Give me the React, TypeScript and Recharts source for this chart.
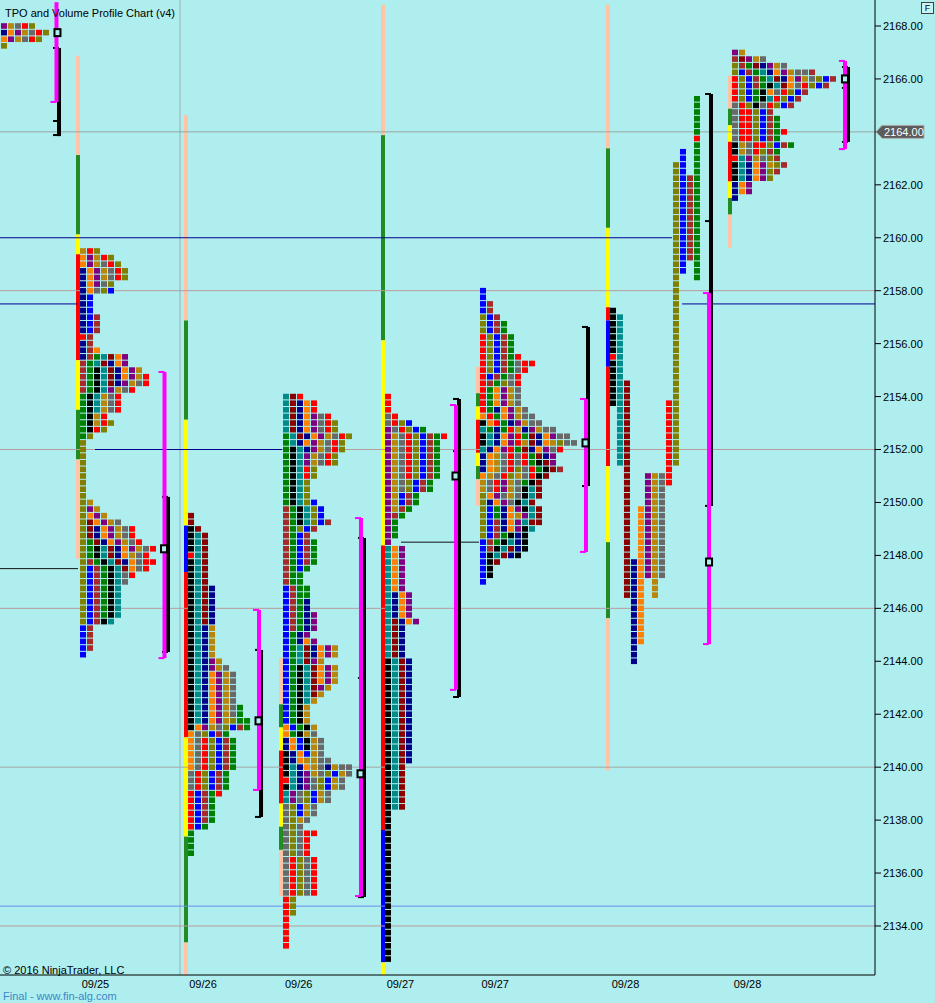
import React from 'react';
import { ComposedChart, Scatter, XAxis, YAxis, ReferenceLine, ReferenceArea, ReferenceDot } from 'recharts';

// ---------- styles ----------
const BG = '#AFEEEE';
const TPO_COLORS: Record<string, string> = {
  K: '#000000', T: '#008B8B', M: '#8B0000', N: '#00008B', A: '#FF8000', P: '#800080',
  G: '#B8860B', Y: '#696969', R: '#FF0000', O: '#808000', B: '#0000FF', W: '#A52A2A', E: '#008000',
};
const STRIP_COLORS: Record<string, string> = { p: '#FFC4A8', g: '#228B22', y: '#FFFF00', r: '#FF0000', b: '#0000FF' };
const LINE_COLORS: Record<string, string> = { gray: '#A4A8A8', rose: '#B89C9C', navy: '#00008B', black: '#101010', sky: '#6A8FEF' };

// ---------- axes ----------
const TICK_SIZE = 0.25;
const LAST_PRICE = 2164;
const Y_DOMAIN: [number, number] = [2132.148, 2168.982];
const Y_TICKS = [2134, 2136, 2138, 2140, 2142, 2144, 2146, 2148, 2150, 2152, 2154, 2156, 2158, 2160, 2162, 2164, 2166, 2168];
const X_DOMAIN: [number, number] = [0, 125];
const X_TICKS = [13.63, 29.0, 42.67, 57.2, 70.74, 89.36, 106.79];
const X_LABELS = ['09/25', '09/26', '09/26', '09/27', '09/27', '09/28', '09/28'];

// ---------- TPO profiles (rows from top price downward, one letter per period) ----------
const profile0Rows = ['PGYRO', 'NAPGYRO', 'APGYRO', 'O'];

const profileARows = [
  'GRO', 'APGRO', 'APGYRO', 'NAPGYRO', 'NAPGYRO', 'NAPYO', 'NAYOB',
  'NB', 'NB', 'NB', 'NBW', 'NBW', 'NBW', 'RW', 'NW', 'NWA',
  'NWETMAP', 'WETMNAP', 'WEKTMNAPG', 'WEKTMNAPGR', 'WEKTMNPGYR', 'WEKTPGYR',
  'EKTGYR', 'EKTGYR', 'EKTGYR', 'EKGR', 'EKGRO', 'EKRO', 'EO',
  'O', 'O', 'O', 'O', 'O', 'O', 'O', 'O', 'O',
  'OG', 'OPG', 'OAPG', 'OMAPGY', 'OMNAPGYR', 'OMNAPGYR', 'OEMNAPGYR',
  'OEKTMNAPGYR', 'OEKTMNAGYR', 'OWEKTMNAYRR', 'OBWEKTMAYR', 'OBWEKTYR', 'OBWEKTY',
  'OBWEKT', 'OBWEKT', 'OBWEKT', 'OBWEKT', 'OBWEKT', 'OBWKT',
  'BW', 'BW', 'BW', 'BW', 'B',
];

const profileBRows = [
  'M', 'M', 'KM', 'KTM', 'KTM', 'KTM', 'RTM', 'KTM', 'KTM', 'KTM', 'KTM',
  'KTMN', 'KTMN', 'KTMN', 'KTMN', 'KTMN', 'KTMN',
  'KTNG', 'KTNG', 'KTNG', 'KTNG', 'KTNG', 'KTNPG', 'KTNPGY',
  'KTNAPGY', 'KTNAPGY', 'KTNAPGY', 'KTNAPGY', 'KTNAPGY', 'KTNAPGYE', 'KTNAPGYE',
  'KTNAPGOEE', 'KAPGYOBWE', 'AYOBWE',
  'AYROBWE', 'AYROBWE', 'AYROBWE', 'AYROBWE', 'AYROBWE',
  'YROBWE', 'YROBWE', 'YROBWE', 'RBWER', 'RBWE', 'RBWE', 'RBWE', 'RBWE', 'RBE',
  'E', 'E', 'E', 'E',
];

const profileCRows = [
  'TMR', 'TMNAR', 'TMNAR', 'TMNAPYR', 'TMNAPYRO', 'TMNAPYRO', 'ETMNAPGYRO', 'ETNAPGYRO',
  'EKTNPGYRO', 'EKTPGYRO', 'EKTPGYRO', 'EKTRO', 'EKTRO', 'EKTO', 'EKTO', 'EKTO', 'EKTOB',
  'WEKTOB', 'WEKTOB', 'WEKTOBW', 'WEOBW', 'WEBW', 'WEBWE', 'WEBWE', 'WEBWE', 'WEBWE', 'WEBE',
  'WEE', 'WEE', 'BWEE', 'BWEE', 'BWEN', 'BWEN',
  'BWENP', 'BWENP', 'BWENP', 'BENP', 'BENAP', 'BETMNAPG', 'BETMNAPG', 'BETMPG',
  'BEKTMAPG', 'BEKTMAPG', 'BEKTMAPG', 'BEKTMPG', 'BEKTMG', 'BEKTG', 'BEKG', 'BEKG', 'BEKG',
  'ABEKG', 'AEKGY', 'NABKGY', 'NABKGY', 'KNABGY', 'KNAGGYY', 'KTNAGYNGYY', 'KTNPGYOBGY',
  'RTNPYOBGY', 'KTNPYOBGY', 'TPYOBGY', 'TPYOBGY', 'YOBGY', 'YOBGY', 'YOGY', 'YOY', 'YOYRR',
  'YOYR', 'YOYR', 'YOYR', 'YROYR', 'YROYR', 'YROYR', 'YROYR', 'YROYR', 'YROYR',
  'RO', 'RO', 'RO', 'R', 'R', 'R', 'R', 'R',
];

const profileDRows = [
  'R', 'R', 'R', 'YR', 'YROB', 'PYROBE', 'PGYROBWER',
  'PGYROBWE', 'PGYROBWE', 'PGYROBWE', 'PGYROBWE', 'PGYROBWE', 'PGYROBWE',
  'PGYOBWE', 'PGYOBWE', 'PGBWE', 'PGBWE', 'PGWE', 'PWE', 'PE', 'PE', 'PE', 'P',
  'TAP', 'TAP', 'TAP', 'TAP', 'TAP', 'TAP', 'TAP', 'TNAP', 'TNAP', 'TNAP', 'TNAP', 'TMNAP',
  'TMN', 'TMN', 'TMN', 'TMN', 'TMN',
  'KTMN', 'KTMN', 'KTMN', 'KTMN', 'KTMN', 'KTMN', 'KTMN', 'KTMN', 'KTMN', 'KTMN', 'KTMN',
  'KTMN', 'KTMN', 'KTMN', 'KTMN', 'KTMN',
  'KTM', 'KTM', 'KTM', 'KTM', 'KTM', 'KTM', 'KTM',
  'K', 'K', 'K', 'K', 'K', 'K', 'K', 'K', 'K', 'K', 'K', 'K', 'K', 'K', 'K', 'K', 'K',
  'K', 'K', 'K', 'K', 'K', 'K',
];

const profileERows = [
  'B', 'B', 'BW', 'BW', 'OBW', 'OBWE', 'OBWE', 'ROBWE', 'ROBWE', 'ROBWE', 'ROBWER',
  'ROBWEYRR', 'ROBWEYR', 'RBWEYR', 'RWEOYR', 'REAPGY', 'REAPGY', 'REAPGY', 'RENAPGY',
  'AREAPGYY', 'KARENPGYY', 'TENERGNPGYY', 'KTNAPREMNAPYY', 'KTNAPRGMNAGOYY',
  'TNAPREMNAPYR', 'NAGYRYREMNP', 'NAGYRYREKMP', 'NAGYROYREKMW', 'AGYROGYRKM',
  'GYRPGYEKM', 'GYRPGYKTM', 'OAPYGYKTM', 'ONAPYKTM', 'OBENAPKTM', 'OBENAGPTM',
  'OBWNAPTMM', 'OBWNAPKT', 'OBWEKNK', 'BWEKTNK', 'BWKTMNK', 'BKTMNK', 'BKM', 'BK', 'BK', 'B',
];

// 09/28 overnight: one column per period (top price, cells downward)
const profileFColumns = [
  { top: 2157.25, cells: 'KKKKKKKRKKKKKKK' },
  { top: 2157.0, cells: 'TTTTTTTTTTTTTTTTTTTTTTT' },
  { top: 2154.5, cells: 'MMMMMMMMMMMMMMMMMMMMMMMMMMMMMMMMM' },
  { top: 2147.75, cells: 'NNNNNNNNNNNNNNNN' },
  { top: 2149.75, cells: 'AAAAAAAAAAAAAAAAAAAAA' },
  { top: 2151.0, cells: 'PPPPPPPPPPPPPPPP' },
  { top: 2151.0, cells: 'GGGGGGGGGGGGGGGGGGG' },
  { top: 2151.0, cells: 'YYYYYYYYYYYYYYYY' },
  { top: 2153.75, cells: 'RRRRRRRRRRRRR' },
  { top: 2162.75, cells: 'OOOOOOOOOOOOOOOOOOOOOOOOOOOOOOOOOOOOOOOOOOOOOO' },
  { top: 2163.25, cells: 'BBBBBBBBBBBBBBBBBBB' },
  { top: 2162.25, cells: 'WWWWWWWWWWWWW' },
  { top: 2165.25, cells: 'EEEEEEREEEEEEEEEEEEEEEEEEEEE' },
];

const profileGRows = [
  'PG', 'WMPGY', 'OWEMNPGY', 'OBWETNAPGYYW', 'ROBWETMNAPGYOBW', 'ROBWEKTMAYROBW',
  'ROBEKAYROBW', 'ROBEKTROBW', 'YROKYROBW', 'YRROBW', 'YRROBWE', 'YRROBWE', 'YRROBWER',
  'YRROBWE', 'KGYRROBWE', 'KGYROWE', 'RTPGYOW', 'KTNAPGOW', 'KTNAPOW', 'KTNAPO', 'NAP', 'NAP', 'N',
];

// session colour strips (top price, bottom price, colour code)
const stripA = [[2166.875, 2163.125, 'p'], [2163.125, 2160.125, 'g'], [2160.125, 2159.375, 'y'], [2159.375, 2155.375, 'r'], [2155.375, 2153.5, 'y'], [2153.5, 2151.625, 'g'], [2151.625, 2147.875, 'p']];
const stripB = [[2164.625, 2156.875, 'p'], [2156.875, 2153.125, 'g'], [2153.125, 2149.125, 'y'], [2149.125, 2147.375, 'b'], [2147.375, 2141.125, 'r'], [2141.125, 2137.375, 'y'], [2137.375, 2133.375, 'g'], [2133.375, 2132.148, 'p']];
const stripC = [[2144.125, 2142.375, 'p'], [2142.375, 2141.5, 'g'], [2141.5, 2140.625, 'y'], [2140.625, 2138.625, 'r'], [2138.625, 2137.75, 'y'], [2137.75, 2136.875, 'g'], [2136.875, 2135.125, 'p']];
const stripD = [[2168.8, 2163.875, 'p'], [2163.875, 2156.125, 'g'], [2156.125, 2148.375, 'y'], [2148.375, 2137.625, 'r'], [2137.625, 2132.625, 'b'], [2132.625, 2132.148, 'y']];
const stripE = [[2155.125, 2154.125, 'p'], [2154.125, 2153.625, 'g'], [2153.625, 2153.125, 'y'], [2153.125, 2151.875, 'r'], [2151.875, 2151.375, 'y'], [2151.375, 2150.875, 'g'], [2150.875, 2149.875, 'p']];
const stripF = [[2168.8, 2163.375, 'p'], [2163.375, 2160.375, 'g'], [2160.375, 2157.375, 'y'], [2157.375, 2156.875, 'r'], [2156.875, 2155.125, 'b'], [2155.125, 2151.375, 'r'], [2151.375, 2148.5, 'y'], [2148.5, 2145.625, 'g'], [2145.625, 2139.875, 'p']];
const stripG = [[2166.125, 2164.875, 'p'], [2164.875, 2164.25, 'g'], [2164.25, 2163.625, 'y'], [2163.625, 2162.125, 'r'], [2162.125, 2161.5, 'y'], [2161.5, 2160.875, 'g'], [2160.875, 2159.625, 'p']];

// session layout: time-slot where each profile starts
const sessions = [
  { start: 0.14, top: 2168.0, rows: profile0Rows, strip: [] as any[] },
  { start: 11.43, top: 2159.5, rows: profileARows, strip: stripA },
  { start: 26.86, top: 2149.5, rows: profileBRows, strip: stripB },
  { start: 40.43, top: 2154.0, rows: profileCRows, strip: stripC },
  { start: 55.0, top: 2154.0, rows: profileDRows, strip: stripD },
  { start: 68.57, top: 2158.0, rows: profileERows, strip: stripE },
  { start: 87.14, top: 0, rows: [] as string[], strip: stripF },
  { start: 104.57, top: 2167.0, rows: profileGRows, strip: stripG },
];
const F_START = 87.14;

// value-area (magenta) and range (black) brackets, POC boxes
const vaBrackets = [
  { x: 8.07, hi: 2168.9, lo: 2165.13, ticks: [2165.13] },
  { x: 23.5, hi: 2154.93, lo: 2144.12, ticks: [2154.93, 2144.12] },
  { x: 37.0, hi: 2145.94, lo: 2139.14, ticks: [2145.94, 2139.14] },
  { x: 51.57, hi: 2149.41, lo: 2135.13, ticks: [2149.41, 2135.13] },
  { x: 65.14, hi: 2153.68, lo: 2142.92, ticks: [2153.68, 2142.92] },
  { x: 83.71, hi: 2153.91, lo: 2148.13, ticks: [2153.91, 2148.13] },
  { x: 101.29, hi: 2157.91, lo: 2144.65, ticks: [2157.91, 2144.65] },
  { x: 120.71, hi: 2166.68, lo: 2163.35, ticks: [2166.68, 2163.35] },
];
const rangeBrackets = [
  { x: 8.43, hi: 2167.17, lo: 2163.84, ticks: [2167.17, 2164.41, 2163.88] },
  { x: 24.0, hi: 2150.21, lo: 2144.35, ticks: [2150.21, 2144.35] },
  { x: 37.29, hi: 2144.43, lo: 2138.12, ticks: [2144.43, 2138.12] },
  { x: 52.0, hi: 2148.66, lo: 2135.09, ticks: [2148.66, 2143.37, 2135.09] },
  { x: 65.57, hi: 2153.91, lo: 2142.65, ticks: [2153.91, 2151.94, 2142.65] },
  { x: 84.0, hi: 2156.63, lo: 2150.62, ticks: [2156.63, 2152.25, 2150.62] },
  { x: 101.57, hi: 2165.43, lo: 2149.87, ticks: [2165.43, 2160.63, 2149.87] },
  { x: 121.14, hi: 2166.45, lo: 2163.62, ticks: [2166.45, 2165.66, 2163.62] },
];
const pocBoxes = [
  { x: 8.21, y: 2167.75 }, { x: 23.43, y: 2148.25 }, { x: 36.93, y: 2141.75 }, { x: 51.5, y: 2139.75 },
  { x: 65.07, y: 2151.0 }, { x: 83.64, y: 2152.25 }, { x: 101.29, y: 2147.75 }, { x: 120.71, y: 2166.0 },
];

// horizontal levels
const fullLevels = [
  { y: 2158, c: 'rose' }, { y: 2152, c: 'rose' }, { y: 2146, c: 'rose' },
  { y: 2140, c: 'gray' }, { y: 2134, c: 'rose' }, { y: 2134.75, c: 'sky' },
];
const partLevels = [
  { y: 2160.0, x1: 0, x2: 96.0, c: 'navy' },
  { y: 2157.5, x1: 0, x2: 11.14, c: 'navy' },
  { y: 2157.5, x1: 97.43, x2: 125, c: 'navy' },
  { y: 2152.0, x1: 13.57, x2: 40.29, c: 'navy' },
  { y: 2147.5, x1: 0, x2: 11.14, c: 'black' },
  { y: 2148.5, x1: 57.29, x2: 68.43, c: 'black' },
];
const SESSION_DIVIDER = 25.71;

// ---------- layout constants ----------
const CELL_CENTER = 3 / 7;
const STRIP_W = 4 / 7;
const TICK_LEN = 0.86;

type Cell = { x: number; y: number; c: string };
const cells: Cell[] = [];
sessions.forEach((s) => {
  s.rows.forEach((row, r) => {
    row.split('').forEach((ch, i) => {
      if (ch !== '.') cells.push({ x: s.start + i + CELL_CENTER, y: s.top - r * TICK_SIZE, c: ch });
    });
  });
});
profileFColumns.forEach((col, i) => {
  col.cells.split('').forEach((ch, r) => {
    cells.push({ x: F_START + i + CELL_CENTER, y: col.top - r * TICK_SIZE, c: ch });
  });
});

const CellShape = (props: any) => {
  const { cx, cy, payload } = props;
  if (cx == null || cy == null) return null;
  return <rect x={cx - 3} y={cy - 2.8} width={6} height={5.6} fill={TPO_COLORS[payload.c]} />;
};

const YTick = (props: any) => {
  const { x, y, payload } = props;
  const v = payload.value as number;
  const label = v.toFixed(2);
  if (v === LAST_PRICE) {
    return (
      <g>
        <polygon
          points={`${x - 7},${y} ${x - 1},${y - 6.5} ${x + 41},${y - 6.5} ${x + 41},${y + 6.5} ${x - 1},${y + 6.5}`}
          fill="#5C5C5C" stroke="#B0B0B0" strokeWidth={1}
        />
        <text x={x + 1} y={y} dy="0.36em" fill="#FFFFFF" fontSize={11} fontFamily="Arial, 'Liberation Sans'">{label}</text>
      </g>
    );
  }
  return (
    <text x={x} y={y} dy="0.36em" textAnchor="start" fill="#000" fontSize={11} fontFamily="Arial, 'Liberation Sans'">{label}</text>
  );
};

const PocShape = (props: any) => {
  const { cx, cy } = props;
  return <rect x={cx - 3} y={cy - 3.5} width={6} height={7} fill={BG} stroke="#000" strokeWidth={2} />;
};

export default function App() {
  const xTickFmt = (v: number) => {
    const i = X_TICKS.indexOf(v);
    return i >= 0 ? X_LABELS[i] : '';
  };
  return (
    <div style={{ position: 'absolute', left: 0, top: 0, width: 935, height: 1003, background: BG, overflow: 'hidden', fontFamily: "Arial, 'Liberation Sans', sans-serif" }}>
      <ComposedChart width={935} height={1003} margin={{ top: 0, right: 0, bottom: 0, left: 0 }}>
        <XAxis
          type="number" dataKey="x" domain={X_DOMAIN} allowDataOverflow ticks={X_TICKS} interval={0}
          tickFormatter={xTickFmt} tickLine={false} tickSize={3} height={28}
          axisLine={{ stroke: '#000' }} tick={{ fontSize: 11, fill: '#000', fontFamily: "Arial, 'Liberation Sans'" }}
        />
        <YAxis
          type="number" dataKey="y" orientation="right" width={60} domain={Y_DOMAIN} allowDataOverflow
          ticks={Y_TICKS} interval={0} axisLine={{ stroke: '#000' }} tickLine={{ stroke: '#000' }} tickSize={6}
          tick={<YTick />}
        />
        <ReferenceLine x={SESSION_DIVIDER} stroke="#A8A8A8" strokeWidth={1} />
        {fullLevels.map((l, i) => (
          <ReferenceLine key={'fl' + i} y={l.y} stroke={LINE_COLORS[l.c]} strokeWidth={1} />
        ))}
        <ReferenceLine y={LAST_PRICE} stroke="#98A4A4" strokeWidth={1} />
        {partLevels.map((l, i) => (
          <ReferenceLine key={'pl' + i} segment={[{ x: l.x1, y: l.y }, { x: l.x2, y: l.y }]} stroke={LINE_COLORS[l.c]} strokeWidth={1} />
        ))}
        {sessions.map((s, si) =>
          s.strip.map((seg: any, i: number) => (
            <ReferenceArea
              key={'st' + si + '-' + i} x1={s.start - STRIP_W} x2={s.start} y1={seg[0]} y2={seg[1]}
              fill={STRIP_COLORS[seg[2]]} fillOpacity={1} stroke="none" ifOverflow="hidden"
            />
          )),
        )}
        <Scatter data={cells} dataKey="y" shape={<CellShape />} isAnimationActive={false} />
        {rangeBrackets.map((b, i) => (
          <ReferenceLine key={'rb' + i} segment={[{ x: b.x, y: b.hi }, { x: b.x, y: b.lo }]} stroke="#000" strokeWidth={4} />
        ))}
        {rangeBrackets.map((b, i) =>
          b.ticks.map((t, j) => (
            <ReferenceLine key={'rt' + i + '-' + j} segment={[{ x: b.x - TICK_LEN, y: t }, { x: b.x, y: t }]} stroke="#000" strokeWidth={2} />
          )),
        )}
        {vaBrackets.map((b, i) => (
          <ReferenceLine key={'vb' + i} segment={[{ x: b.x, y: b.hi }, { x: b.x, y: b.lo }]} stroke="#FF00FF" strokeWidth={4} />
        ))}
        {vaBrackets.map((b, i) =>
          b.ticks.map((t, j) => (
            <ReferenceLine key={'vt' + i + '-' + j} segment={[{ x: b.x - TICK_LEN, y: t }, { x: b.x, y: t }]} stroke="#FF00FF" strokeWidth={2} />
          )),
        )}
        {pocBoxes.map((p, i) => (
          <ReferenceDot key={'poc' + i} x={p.x} y={p.y} r={4} shape={<PocShape />} />
        ))}
      </ComposedChart>
      <div style={{ position: 'absolute', left: 5, top: 7, fontSize: 11, lineHeight: 'normal', color: '#000', whiteSpace: 'nowrap' }}>
        TPO and Volume Profile Chart (v4)
      </div>
      <div style={{ position: 'absolute', left: 3, top: 964, fontSize: 11, lineHeight: 'normal', color: '#000', whiteSpace: 'nowrap' }}>
        © 2016 NinjaTrader, LLC
      </div>
      <div style={{ position: 'absolute', left: 3, top: 991, fontSize: 11, lineHeight: '10px', height: 10, color: '#3A87C8', whiteSpace: 'nowrap' }}>
        Final - www.fin-alg.com
      </div>
      <div style={{ position: 'absolute', left: 921, top: 2, width: 11, height: 10, border: '1px solid #404040', fontSize: 9, lineHeight: '10px', textAlign: 'center', color: '#000', background: '#C8F4F4' }}>
        F
      </div>
    </div>
  );
}
